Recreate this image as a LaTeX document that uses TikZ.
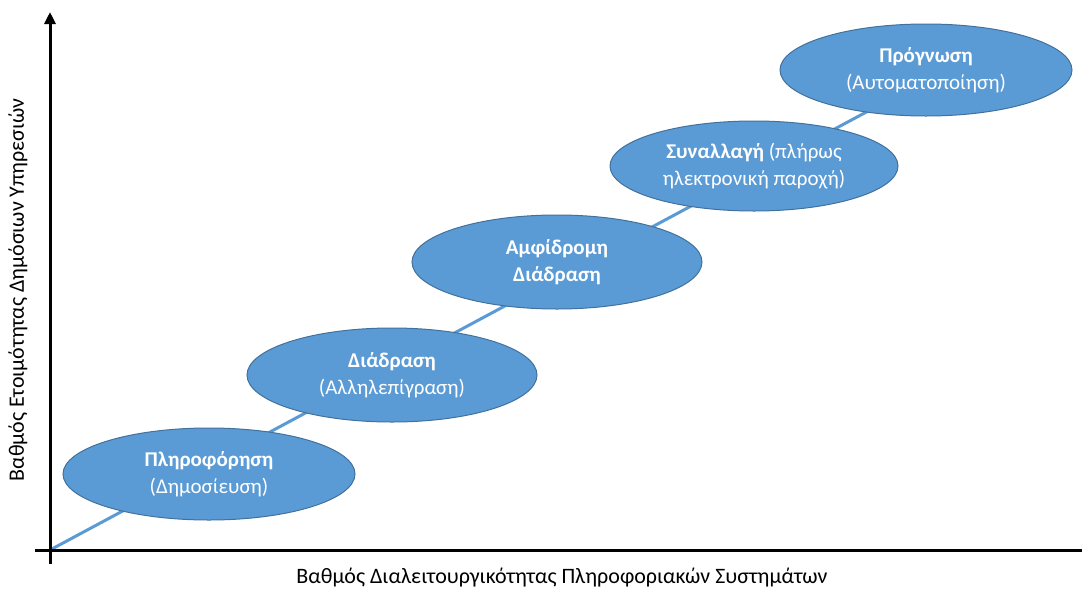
\documentclass[tikz,border=0pt]{standalone}
\usepackage{fontspec}
\setmainfont{Carlito}
\usetikzlibrary{shapes.geometric,arrows.meta}
\definecolor{stagefill}{HTML}{5B9BD5}
\definecolor{stageedge}{HTML}{41719C}
\definecolor{pathline}{HTML}{5B9BD5}
\begin{document}
\begin{tikzpicture}[x=1pt,y=-1pt,
  stage/.style={ellipse, fill=stagefill, draw=stageedge, line width=1pt,
    inner sep=0pt, text=white, align=center,
    font=\fontsize{21}{27}\selectfont},
  axis/.style={line width=3pt, black},
  progress/.style={line width=3pt, pathline},
  axislabel/.style={font=\fontsize{22}{26}\selectfont, text=black}]
  \useasboundingbox[fill=white] (0,0) rectangle (1082,592);

  % axes
  \coordinate (O) at (50,550);
  \coordinate (xs) at (35,550);
  \coordinate (xe) at (1082,550);
  \coordinate (ys) at (50,564);
  \coordinate (ye) at (50,12);
  \coordinate (pe) at (926,80);

  % progression line, drawn first so the stages cover it
  \draw[progress] (O) -- (pe);

  \draw[axis] (xs) -- (xe);
  \draw[axis, -{Triangle[length=12pt,width=11pt]}] (ys) -- (ye);

  % stage ellipses
  \node[stage, minimum width=292pt, minimum height=92pt] (s1) at (209,474)
    {\textbf{Πληροφόρηση}\\(Δημοσίευση)};
  \node[stage, minimum width=290pt, minimum height=94pt] (s2) at (392,375)
    {\textbf{Διάδραση}\\(Αλληλεπίγραση)};
  \node[stage, minimum width=290pt, minimum height=94pt] (s3) at (557,262)
    {\textbf{Αμφίδρομη}\\\textbf{Διάδραση}};
  \node[stage, minimum width=288pt, minimum height=90pt] (s4) at (754,166)
    {\textbf{Συναλλαγή} (πλήρως\\ηλεκτρονική παροχή)};
  \node[stage, minimum width=292pt, minimum height=92pt] (s5) at (926,70)
    {\textbf{Πρόγνωση}\\(Αυτοματοποίηση)};

  % axis labels
  \node[axislabel] (xl) at (562,578) {Βαθμός Διαλειτουργικότητας Πληροφοριακών Συστημάτων};
  \node[axislabel, rotate=90] (yl) at (18,290) {Βαθμός Ετοιμότητας Δημόσιων Υπηρεσιών};
\end{tikzpicture}
\end{document}
